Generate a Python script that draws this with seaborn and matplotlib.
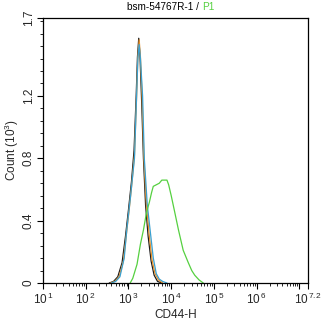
import numpy as np
import pandas as pd
import matplotlib
matplotlib.use("Agg")
import matplotlib.pyplot as plt
import seaborn as sns
from matplotlib.ticker import FixedLocator, NullFormatter, LogLocator

sns.set_style("ticks")
plt.rcParams['font.family'] = ['Liberation Sans', 'DejaVu Sans']
plt.rcParams['mathtext.fontset'] = 'custom'
plt.rcParams['mathtext.rm'] = 'Liberation Sans'
plt.rcParams['mathtext.it'] = 'Liberation Sans'

# log10(CD44-H) positions and counts (x10^3)
black_exp = [2.55, 2.65, 2.75, 2.85, 2.93, 3.0, 3.07, 3.13, 3.18, 3.21, 3.24, 3.27, 3.31, 3.35, 3.4, 3.46, 3.53, 3.6, 3.68, 3.78]
black_cnt = [0.0, 0.01, 0.04, 0.13, 0.3, 0.47, 0.65, 0.85, 1.2, 1.45, 1.57, 1.45, 1.15, 0.8, 0.5, 0.3, 0.14, 0.05, 0.01, 0.0]

orange_exp = [2.58, 2.68, 2.78, 2.88, 2.95, 3.02, 3.08, 3.14, 3.19, 3.22, 3.25, 3.28, 3.32, 3.36, 3.42, 3.48, 3.55, 3.62, 3.7, 3.8]
orange_cnt = [0.0, 0.01, 0.04, 0.14, 0.31, 0.48, 0.64, 0.82, 1.2, 1.45, 1.56, 1.45, 1.18, 0.8, 0.5, 0.32, 0.15, 0.06, 0.02, 0.0]

blue_exp = [2.6, 2.7, 2.8, 2.9, 2.96, 3.05, 3.14, 3.19, 3.22, 3.25, 3.28, 3.33, 3.37, 3.44, 3.51, 3.58, 3.65, 3.72, 3.8, 3.9]
blue_cnt = [0.0, 0.01, 0.04, 0.16, 0.34, 0.56, 0.8, 1.2, 1.44, 1.53, 1.44, 1.2, 0.8, 0.5, 0.33, 0.16, 0.06, 0.025, 0.01, 0.0]

green_exp = [3.04, 3.1, 3.2, 3.28, 3.35, 3.42, 3.49, 3.54, 3.58, 3.65, 3.72, 3.78, 3.85, 3.9, 3.94, 4.0, 4.07, 4.17, 4.28, 4.4, 4.48, 4.55, 4.65, 4.75]
green_cnt = [0.0, 0.03, 0.12, 0.25, 0.34, 0.45, 0.52, 0.58, 0.62, 0.63, 0.64, 0.66, 0.66, 0.66, 0.63, 0.56, 0.47, 0.34, 0.21, 0.13, 0.08, 0.05, 0.02, 0.0]

x_tick_exp = [1, 2, 3, 4, 5, 6, 7, 7.2]
x_tick_labels = ["1", "2", "3", "4", "5", "6", "", "7.2"]
y_ticks = [0, 0.4, 0.8, 1.2, 1.7]
y_tick_labels = ["0", "0.4", "0.8", "1.2", "1.7"]

series = [
    ("black", black_exp, black_cnt, "#1a1a1a"),
    ("orange", orange_exp, orange_cnt, "#e8902a"),
    ("blue", blue_exp, blue_cnt, "#3aa0d0"),
    ("green", green_exp, green_cnt, "#55d040"),
]

fig = plt.figure(figsize=(3.22, 3.25), dpi=100)
ax = fig.add_axes([43/322, 42/325, 265/322, 265/325])

for name, ex, ct, col in series:
    df = pd.DataFrame({"x": 10 ** np.array(ex), "y": ct})
    sns.lineplot(data=df, x="x", y="y", ax=ax, color=col, lw=0.9, sort=False)

ax.set_xscale("log")
ax.set_xlim(10 ** 1, 10 ** 7.2)
ax.set_ylim(0, 1.7)

ax.xaxis.set_major_locator(FixedLocator([10 ** e for e in x_tick_exp]))
ax.set_xticklabels([(r"10$^{\,%s}$" % l) if l else "" for l in x_tick_labels])
ax.xaxis.set_minor_locator(LogLocator(base=10, subs=np.arange(2, 10), numticks=20))
ax.xaxis.set_minor_formatter(NullFormatter())

ax.set_yticks(y_ticks)
ax.set_yticklabels(y_tick_labels, rotation=90, va="center")
ax.yaxis.set_minor_locator(FixedLocator(np.arange(0, 1.69, 0.08)))

ax.tick_params(axis="both", which="major", length=4, width=0.8, labelsize=8.5, color="black", pad=2)
ax.tick_params(axis="both", which="minor", length=2, width=0.6, color="black")
for s in ax.spines.values():
    s.set_linewidth(0.9)
    s.set_color("black")

ax.set_xlabel("CD44-H", fontsize=8.5, labelpad=2)
ax.set_ylabel(r"Count (10$^{3}$)", fontsize=8.5, labelpad=1)

fig.text(202/322, 1 - 7/325, "bsm-54767R-1 / ", ha="right", va="center", fontsize=7.2, color="black")
fig.text(202/322, 1 - 7/325, "P1", ha="left", va="center", fontsize=7.2, color="#55d040")

fig.savefig("out.png", dpi=100)
